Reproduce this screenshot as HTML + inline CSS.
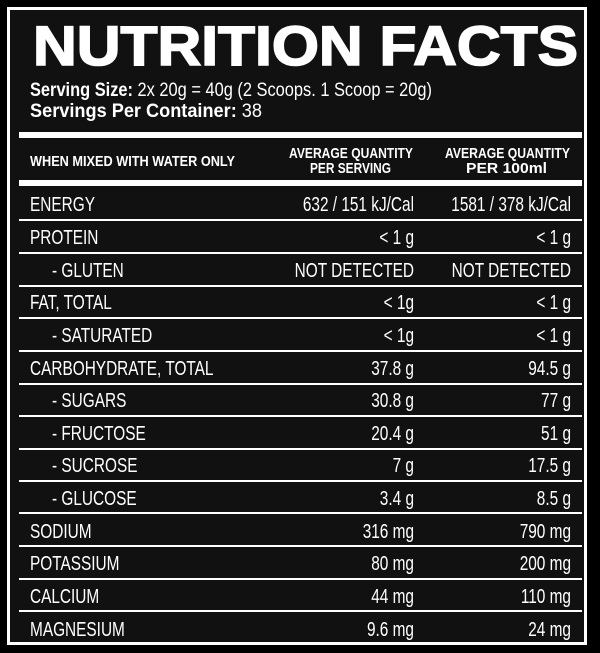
<!DOCTYPE html>
<html><head><meta charset="utf-8"><style>
html,body{margin:0;padding:0;background:#000;}
svg{display:block;}
text{font-family:"Liberation Sans",Arial,sans-serif;fill:#fff;}
</style></head><body>
<svg width="600" height="653" viewBox="0 0 600 653" xmlns="http://www.w3.org/2000/svg">
<rect width="600" height="653" fill="#000"/>
<rect x="8.5" y="8.5" width="577" height="635" fill="#111" stroke="#fff" stroke-width="3"/>
<text x="33" y="65" font-size="56" font-weight="bold" stroke="#fff" stroke-width="1.6" textLength="545" lengthAdjust="spacingAndGlyphs">NUTRITION FACTS</text>
<text x="30" y="96" font-size="19" textLength="402" lengthAdjust="spacingAndGlyphs"><tspan font-weight="bold">Serving Size:</tspan> 2x 20g = 40g (2 Scoops. 1 Scoop = 20g)</text>
<text x="30" y="117" font-size="19" textLength="232" lengthAdjust="spacingAndGlyphs"><tspan font-weight="bold">Servings Per Container:</tspan> 38</text>
<rect x="19" y="132" width="563" height="6" fill="#fff"/>
<text x="30" y="166" font-size="15" font-weight="bold" textLength="205" lengthAdjust="spacingAndGlyphs">WHEN MIXED WITH WATER ONLY</text>
<text x="289" y="158" font-size="15" font-weight="bold" textLength="124" lengthAdjust="spacingAndGlyphs">AVERAGE QUANTITY</text>
<text x="310" y="173" font-size="15" font-weight="bold" textLength="81" lengthAdjust="spacingAndGlyphs">PER SERVING</text>
<text x="445" y="158" font-size="15" font-weight="bold" textLength="125" lengthAdjust="spacingAndGlyphs">AVERAGE QUANTITY</text>
<text x="466" y="173" font-size="15" font-weight="bold" textLength="81" lengthAdjust="spacingAndGlyphs">PER 100ml</text>
<rect x="19" y="180" width="563" height="6" fill="#fff"/>
<g fill="#fff">
<rect x="19" y="219" width="563" height="2"/>
<rect x="19" y="252" width="563" height="2"/>
<rect x="19" y="285" width="563" height="2"/>
<rect x="19" y="317" width="563" height="2"/>
<rect x="19" y="350" width="563" height="2"/>
<rect x="19" y="383" width="563" height="2"/>
<rect x="19" y="415" width="563" height="2"/>
<rect x="19" y="448" width="563" height="2"/>
<rect x="19" y="480" width="563" height="2"/>
<rect x="19" y="512" width="563" height="2"/>
<rect x="19" y="545" width="563" height="2"/>
<rect x="19" y="578" width="563" height="2"/>
<rect x="19" y="610" width="563" height="2"/>
</g>
<g font-size="20">
<text transform="translate(30,211) scale(0.77,1)">ENERGY</text>
<text transform="translate(414,211) scale(0.77,1)" text-anchor="end">632 / 151 kJ/Cal</text>
<text transform="translate(571,211) scale(0.77,1)" text-anchor="end">1581 / 378 kJ/Cal</text>

<text transform="translate(30,244) scale(0.77,1)">PROTEIN</text>
<text transform="translate(414,244) scale(0.77,1)" text-anchor="end">&lt; 1 g</text>
<text transform="translate(571,244) scale(0.77,1)" text-anchor="end">&lt; 1 g</text>

<text transform="translate(52,277) scale(0.77,1)">- GLUTEN</text>
<text transform="translate(414,277) scale(0.77,1)" text-anchor="end">NOT DETECTED</text>
<text transform="translate(571,277) scale(0.77,1)" text-anchor="end">NOT DETECTED</text>

<text transform="translate(30,309) scale(0.77,1)">FAT, TOTAL</text>
<text transform="translate(414,309) scale(0.77,1)" text-anchor="end">&lt; 1g</text>
<text transform="translate(571,309) scale(0.77,1)" text-anchor="end">&lt; 1 g</text>

<text transform="translate(52,342) scale(0.77,1)">- SATURATED</text>
<text transform="translate(414,342) scale(0.77,1)" text-anchor="end">&lt; 1g</text>
<text transform="translate(571,342) scale(0.77,1)" text-anchor="end">&lt; 1 g</text>

<text transform="translate(30,375) scale(0.77,1)">CARBOHYDRATE, TOTAL</text>
<text transform="translate(414,375) scale(0.77,1)" text-anchor="end">37.8 g</text>
<text transform="translate(571,375) scale(0.77,1)" text-anchor="end">94.5 g</text>

<text transform="translate(52,407) scale(0.77,1)">- SUGARS</text>
<text transform="translate(414,407) scale(0.77,1)" text-anchor="end">30.8 g</text>
<text transform="translate(571,407) scale(0.77,1)" text-anchor="end">77 g</text>

<text transform="translate(52,440) scale(0.77,1)">- FRUCTOSE</text>
<text transform="translate(414,440) scale(0.77,1)" text-anchor="end">20.4 g</text>
<text transform="translate(571,440) scale(0.77,1)" text-anchor="end">51 g</text>

<text transform="translate(52,472) scale(0.77,1)">- SUCROSE</text>
<text transform="translate(414,472) scale(0.77,1)" text-anchor="end">7 g</text>
<text transform="translate(571,472) scale(0.77,1)" text-anchor="end">17.5 g</text>

<text transform="translate(52,505) scale(0.77,1)">- GLUCOSE</text>
<text transform="translate(414,505) scale(0.77,1)" text-anchor="end">3.4 g</text>
<text transform="translate(571,505) scale(0.77,1)" text-anchor="end">8.5 g</text>

<text transform="translate(30,538) scale(0.77,1)">SODIUM</text>
<text transform="translate(414,538) scale(0.77,1)" text-anchor="end">316 mg</text>
<text transform="translate(571,538) scale(0.77,1)" text-anchor="end">790 mg</text>

<text transform="translate(30,570) scale(0.77,1)">POTASSIUM</text>
<text transform="translate(414,570) scale(0.77,1)" text-anchor="end">80 mg</text>
<text transform="translate(571,570) scale(0.77,1)" text-anchor="end">200 mg</text>

<text transform="translate(30,603) scale(0.77,1)">CALCIUM</text>
<text transform="translate(414,603) scale(0.77,1)" text-anchor="end">44 mg</text>
<text transform="translate(571,603) scale(0.77,1)" text-anchor="end">110 mg</text>

<text transform="translate(30,636) scale(0.77,1)">MAGNESIUM</text>
<text transform="translate(414,636) scale(0.77,1)" text-anchor="end">9.6 mg</text>
<text transform="translate(571,636) scale(0.77,1)" text-anchor="end">24 mg</text>
</g>
</svg>
</body></html>
